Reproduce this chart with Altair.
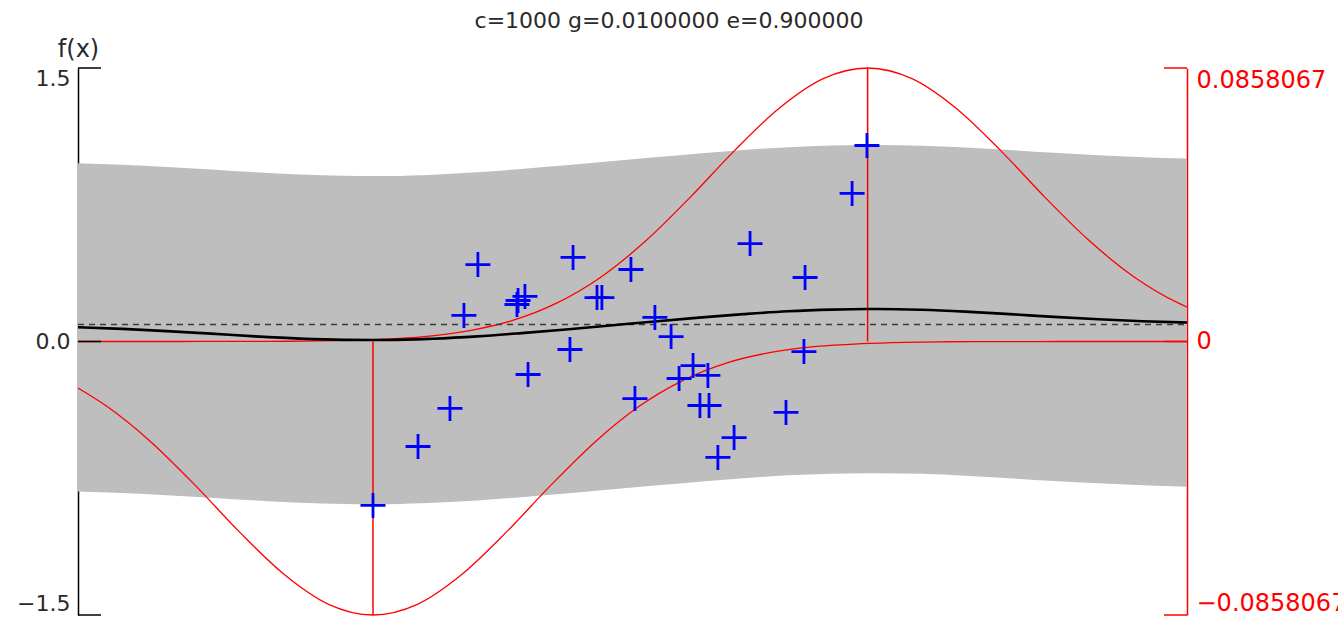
import altair as alt
import pandas as pd

# Model settings shown in the title
C = 1000
GAMMA = 0.01
EPS = 0.9

# Kernel weight magnitude (right-hand axis limit) and bias
AMAX = 0.0858067
BIAS = 0.093

# Training samples (blue crosses)
PTS_X = [13.30, 15.33, 16.77, 17.40, 18.03, 19.79, 19.84, 20.15, 20.29, 22.18,
         22.32, 23.40, 23.62, 24.93, 25.11, 26.01, 26.74, 27.10, 27.73, 28.40,
         28.04, 28.45, 29.58, 28.85, 30.30, 31.92, 32.73, 32.78, 34.90, 35.57]
PTS_Y = [-0.899, -0.576, -0.367, 0.143, 0.422, 0.203, 0.225, 0.247, -0.181, -0.044,
         0.461, 0.241, 0.241, 0.395, -0.313, 0.132, 0.027, -0.203, -0.132, -0.186,
         -0.351, -0.351, -0.527, -0.636, 0.537, -0.389, -0.055, 0.351, 0.812, 1.075]

# Regression curve f(x)
F_X = [0, 2, 4, 6, 8, 10, 12, 13.3, 14, 16, 18, 20, 22, 24, 26, 28, 30, 32, 34,
       35.6, 36, 38, 40, 42, 44, 46, 48, 50]
F_Y = [0.078, 0.069, 0.057, 0.043, 0.028, 0.016, 0.009, 0.008, 0.008, 0.015, 0.028,
       0.046, 0.066, 0.088, 0.110, 0.131, 0.150, 0.166, 0.175, 0.178, 0.178, 0.174,
       0.164, 0.150, 0.135, 0.122, 0.111, 0.104]

# Support vectors and their kernel profiles (relative height, 0..1)
SV_X = [13.3, 35.6]
SV_SIGN = [-1, 1]
NEG_X = [0, 1.3, 3.3, 5.3, 7.3, 9.3, 11.3, 13.3, 15.3, 17.3, 19.3, 21.3, 23.3, 25.3,
         27.3, 29.3, 31.3, 33.3, 35.3, 37.3, 39.3, 41.3, 43.3, 45.3, 50]
NEG_K = [0.170, 0.237, 0.368, 0.527, 0.698, 0.852, 0.961, 1.0, 0.961, 0.852, 0.698,
         0.527, 0.368, 0.237, 0.141, 0.077, 0.039, 0.018, 0.008, 0.003, 0.001, 0.0004,
         0.0001, 0, 0]
POS_X = [0, 1.6, 3.6, 5.6, 7.6, 9.6, 11.6, 13.6, 15.6, 17.6, 19.6, 21.6, 23.6, 25.6,
         27.6, 29.6, 31.6, 33.6, 35.6, 37.6, 39.6, 41.6, 43.6, 45.6, 47.6, 49.6, 50]
POS_K = [0, 0, 0, 0.0001, 0.0004, 0.001, 0.003, 0.008, 0.018, 0.039, 0.077, 0.141,
         0.237, 0.368, 0.527, 0.698, 0.852, 0.961, 1.0, 0.961, 0.852, 0.698, 0.527,
         0.368, 0.237, 0.141, 0.126]

LEFT_TICKS = [-1.5, 0.0, 1.5]
RIGHT_TICKS = [-AMAX, 0.0, AMAX]

W, H = 1109, 547
FONT = "DejaVu Sans"
TXT = "#2a2a2a"
SCALE = 1.5 / AMAX  # maps right-axis units onto the f(x) scale

title_text = f"c={C} g={GAMMA:.7f} e={EPS:.6f}"

xs = alt.Scale(domain=[0, 50], nice=False, zero=False)
ys = alt.Scale(domain=[-1.5, 1.5], nice=False, zero=False)
left_axis = alt.Axis(
    values=LEFT_TICKS, format=".1f", ticks=False, grid=False,
    domainColor="black", domainWidth=1.5,
    labelFont=FONT, labelFontSize=22, labelColor=TXT, labelPadding=8,
    labelFlush=True, title="f(x)", titleAngle=0, titleX=0, titleY=-19,
    titleAlign="center", titleBaseline="middle", titleFont=FONT,
    titleFontSize=24, titleFontWeight="normal", titleColor=TXT,
)

def yenc(field):
    return alt.Y(f"{field}:Q", scale=ys, axis=left_axis)

curve = pd.DataFrame({"x": F_X, "f": F_Y})
band = alt.Chart(curve).transform_calculate(
    lo=f"datum.f - {EPS}", hi=f"datum.f + {EPS}"
).mark_area(color="#bebebe", interpolate="monotone").encode(
    x=alt.X("x:Q", scale=xs, axis=None), y=yenc("lo"), y2="hi:Q"
)

red_df = pd.concat([
    pd.DataFrame({"x": NEG_X, "r": [SV_SIGN[0] * k * AMAX for k in NEG_K], "sv": "neg"}),
    pd.DataFrame({"x": POS_X, "r": [SV_SIGN[1] * k * AMAX for k in POS_K], "sv": "pos"}),
])
red_curves = alt.Chart(red_df).transform_calculate(
    yl=f"datum.r * {SCALE}"
).mark_line(color="#ff0000", strokeWidth=1.3, interpolate="monotone").encode(
    x=alt.X("x:Q", scale=xs, axis=None), y=yenc("yl"), detail="sv:N"
)

stems_df = pd.DataFrame({"x": SV_X, "r": [s * AMAX for s in SV_SIGN]})
stems = alt.Chart(stems_df).transform_calculate(
    yl=f"datum.r * {SCALE}", base="0"
).mark_rule(color="#ff0000", strokeWidth=1.5).encode(
    x=alt.X("x:Q", scale=xs, axis=None), y=yenc("base"), y2="yl:Q"
)

bias_line = alt.Chart(pd.DataFrame({"b": [BIAS]})).mark_rule(
    color="#3a3a3a", strokeWidth=1.5, strokeDash=[6, 5]
).encode(y=yenc("b"), x=alt.value(0), x2=alt.value(W))

f_line = alt.Chart(curve).mark_line(
    color="black", strokeWidth=2.6, interpolate="monotone"
).encode(x=alt.X("x:Q", scale=xs, axis=None), y=yenc("f"))

left_ticks = alt.Chart(pd.DataFrame({"t": LEFT_TICKS})).mark_rule(
    color="black", strokeWidth=1.5
).encode(y=yenc("t"), x=alt.value(0), x2=alt.value(23))

pts = alt.Chart(pd.DataFrame({"x": PTS_X, "y": PTS_Y})).mark_point(
    shape="M-1,0L1,0M0,-1L0,1", filled=False, size=625, strokeWidth=2.8,
    color="#0000ff", opacity=1
).encode(x=alt.X("x:Q", scale=xs, axis=None), y=yenc("y"))

# Title drawn as text, centred on the full canvas
title = alt.Chart(pd.DataFrame({"t": [title_text]})).mark_text(
    font=FONT, fontSize=22, color=TXT, align="center", baseline="alphabetic"
).encode(text="t:N", x=alt.value(591), y=alt.value(-40))

main = alt.layer(band, red_curves, stems, bias_line, f_line, left_ticks, pts, title)

right = alt.Chart(pd.DataFrame({"r": RIGHT_TICKS})).mark_rule(
    color="#ff0000", strokeWidth=1.5
).encode(
    y=alt.Y("r:Q", scale=alt.Scale(domain=[-AMAX, AMAX], nice=False, zero=False),
            axis=alt.Axis(orient="right", values=RIGHT_TICKS, format=".6~r",
                          ticks=False, grid=False, domainColor="#ff0000",
                          domainWidth=1.5, labelColor="#ff0000", labelFont=FONT,
                          labelFontSize=24, labelPadding=9, labelFlush=True,
                          title=None)),
    x=alt.value(W - 23), x2=alt.value(W),
)

chart = alt.layer(main, right).resolve_scale(y="independent").properties(
    width=W, height=H,
    background="white",
    autosize=alt.AutoSizeParams(type="none"),
    padding={"left": 78, "top": 68, "right": 151, "bottom": 7},
).configure_view(strokeWidth=0, stroke="transparent").configure_axis(grid=False)

chart.save("out.html", embed_options={"renderer": "svg", "actions": False})
